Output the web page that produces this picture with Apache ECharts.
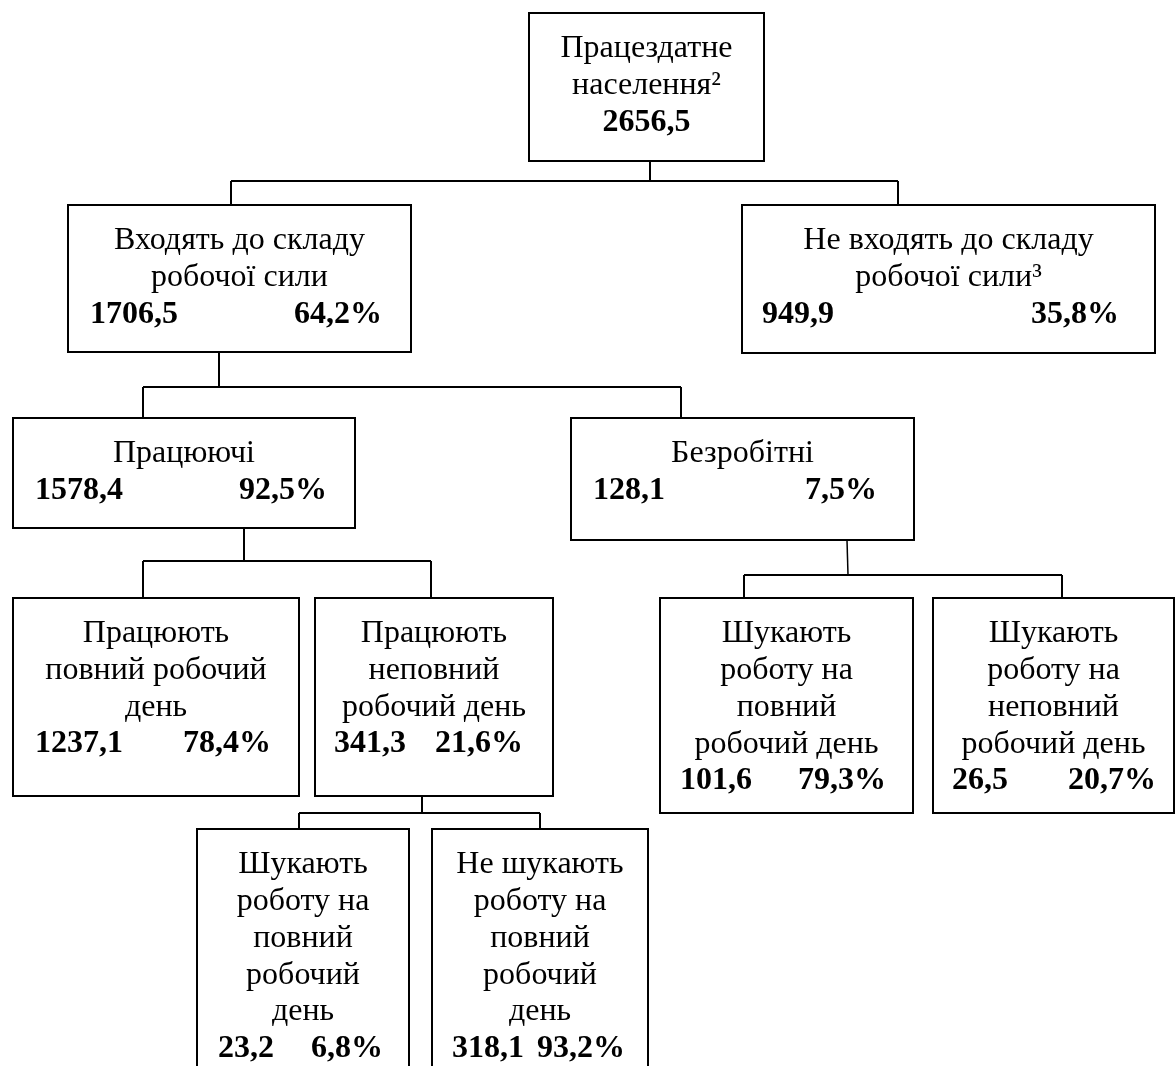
<!DOCTYPE html>
<html><head><meta charset="utf-8">
<script src="https://cdn.jsdelivr.net/npm/echarts@6/dist/echarts.min.js"></script>
<style>html,body{margin:0;padding:0;background:#fff}#c{width:1176px;height:1066px}</style>
</head><body><div id="c"></div>
<script>
// ---- data ----
const titles = [
  ['Працездатне', 'населення²'],
  ['Входять до складу', 'робочої сили'],
  ['Не входять до складу', 'робочої сили³'],
  ['Працюючі'],
  ['Безробітні'],
  ['Працюють', 'повний робочий', 'день'],
  ['Працюють', 'неповний', 'робочий день'],
  ['Шукають', 'роботу на', 'повний', 'робочий день'],
  ['Шукають', 'роботу на', 'неповний', 'робочий день'],
  ['Шукають', 'роботу на', 'повний', 'робочий', 'день'],
  ['Не шукають', 'роботу на', 'повний', 'робочий', 'день']
];
const values = [2656.5, 1706.5, 949.9, 1578.4, 128.1, 1237.1, 341.3, 101.6, 26.5, 23.2, 318.1];
const shares = [null, 64.2, 35.8, 92.5, 7.5, 78.4, 21.6, 79.3, 20.7, 6.8, 93.2];

// ---- layout (diagram units = px of the page) ----
const boxes = [
  [529, 13, 764, 161],
  [68, 205, 411, 352],
  [742, 205, 1155, 353],
  [13, 418, 355, 528],
  [571, 418, 914, 540],
  [13, 598, 299, 796],
  [315, 598, 553, 796],
  [660, 598, 913, 813],
  [933, 598, 1174, 813],
  [197, 829, 409, 1085],
  [432, 829, 648, 1085]
];
const pads = [[0,0],[22,29],[20,36],[22,28],[22,37],[22,28],[19,30],[20,27],[19,18],[21,26],[20,23]];
const links = [
  {from: 0, x0: 650, x1: 650, bus: 181, drops: [231, 898], to: [1, 2]},
  {from: 1, x0: 219, x1: 219, bus: 387, drops: [143, 681], to: [3, 4]},
  {from: 3, x0: 244, x1: 244, bus: 561, drops: [143, 431], to: [5, 6]},
  {from: 4, x0: 847, x1: 848, bus: 575, drops: [744, 1062], to: [7, 8]},
  {from: 6, x0: 422, x1: 422, bus: 813, drops: [299, 540], to: [9, 10]}
];
const FIRST = 41, STEP = 36.7, MID = 5;
const FONT = "'Times New Roman', 'Liberation Serif', serif";
const fmt = v => v.toFixed(1).replace('.', ',');

const chart = echarts.init(document.getElementById('c'), null, {renderer: 'canvas'});

function renderBox(params, api) {
  const i = params.dataIndex;
  const b = boxes[i];
  const p0 = api.coord([b[0], b[1]]);
  const p1 = api.coord([b[2], b[3]]);
  const cx = (p0[0] + p1[0]) / 2;
  const children = [{
    type: 'rect',
    shape: {x: p0[0], y: p0[1], width: p1[0] - p0[0], height: p1[1] - p0[1]},
    style: {fill: '#fff', stroke: '#000', lineWidth: 2}
  }];
  const lines = titles[i];
  lines.forEach((t, k) => {
    children.push({
      type: 'text',
      style: {text: t, x: cx, y: p0[1] + FIRST + k * STEP - MID, align: 'center', verticalAlign: 'middle',
        fontFamily: FONT, fontSize: 32, fill: '#000'}
    });
  });
  const ny = p0[1] + FIRST + lines.length * STEP - MID;
  if (shares[i] == null) {
    children.push({type: 'text', style: {text: fmt(values[i]), x: cx, y: ny, align: 'center', verticalAlign: 'middle',
      fontFamily: FONT, fontSize: 32, fontWeight: 'bold', fill: '#000'}});
  } else {
    children.push({type: 'text', style: {text: fmt(values[i]), x: p0[0] + pads[i][0], y: ny, align: 'left', verticalAlign: 'middle',
      fontFamily: FONT, fontSize: 32, fontWeight: 'bold', fill: '#000'}});
    children.push({type: 'text', style: {text: fmt(shares[i]) + '%', x: p1[0] - pads[i][1], y: ny, align: 'right', verticalAlign: 'middle',
      fontFamily: FONT, fontSize: 32, fontWeight: 'bold', fill: '#000'}});
  }
  return {type: 'group', children};
}

function renderLink(params, api) {
  const L = links[params.dataIndex];
  const pb = boxes[L.from];
  const segs = [];
  segs.push([[L.x0, pb[3]], [L.x1, L.bus]]);
  segs.push([[Math.min(...L.drops), L.bus], [Math.max(...L.drops), L.bus]]);
  L.drops.forEach((dx, k) => segs.push([[dx, L.bus], [dx, boxes[L.to[k]][1]]]));
  return {
    type: 'group',
    children: segs.map((s, k) => {
      const a = api.coord(s[0]), c = api.coord(s[1]);
      return {type: 'line', shape: {x1: a[0], y1: a[1], x2: c[0], y2: c[1]},
        style: {stroke: '#000', lineWidth: (k === 0 && L.x0 !== L.x1) ? 1.5 : 2}};
    })
  };
}

chart.setOption({
  animation: false,
  backgroundColor: '#fff',
  grid: {left: 0, right: 0, top: 0, bottom: 0},
  xAxis: {type: 'value', min: 0, max: 1176, show: false},
  yAxis: {type: 'value', min: 0, max: 1066, inverse: true, show: false},
  series: [
    {type: 'custom', name: 'links', renderItem: renderLink, data: links.map((l, i) => [l.x0, l.bus, i]), silent: true},
    {type: 'custom', name: 'boxes', renderItem: renderBox, data: boxes.map((b, i) => [b[0], b[1], values[i]]), silent: true}
  ]
});
</script>
</body></html>
